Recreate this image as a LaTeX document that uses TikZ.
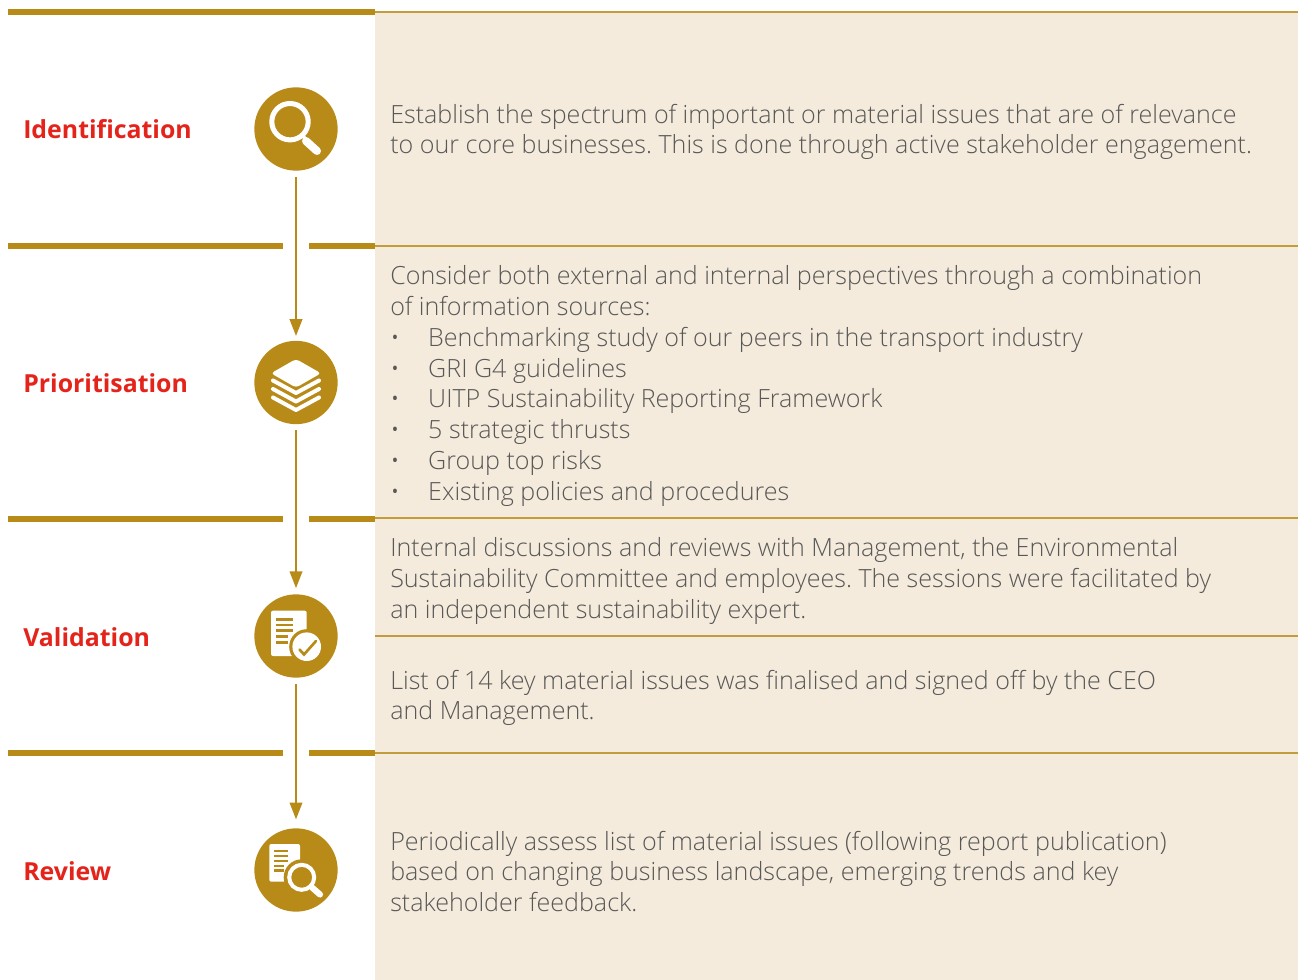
\documentclass[tikz,border=0pt]{standalone}
\usepackage{fontspec}
\setmainfont{Open Sans Light}
\newfontfamily\boldfont[Ligatures=NoCommon]{Open Sans Bold}
\usetikzlibrary{arrows.meta}
\definecolor{gold}{HTML}{B88A18}
\definecolor{cream}{HTML}{F5EBDD}
\definecolor{stepred}{HTML}{E4241B}
\definecolor{bodygray}{HTML}{585856}
\newcommand{\bulletline}[1]{\makebox[28.5pt][l]{\textbullet}#1}
\begin{document}
\begin{tikzpicture}[x=0.75pt,y=-0.75pt,
  stepcircle/.style={circle,fill=gold,minimum size=62.5pt,inner sep=0pt},
  steplabel/.style={anchor=west,inner sep=0pt,text=stepred,font=\boldfont\fontsize{18.65}{22}\selectfont},
  bodytext/.style={anchor=west,inner sep=0pt,align=left,text=bodygray,font=\frenchspacing\fontsize{18.8}{23.05}\selectfont},
  steparrow/.style={draw=gold,line width=1.1pt,-{Triangle[length=12.5pt,width=9.5pt,fill=gold]},shorten <=4.5pt},
  thickrule/.style={draw=gold,line width=4pt},
  thinrule/.style={draw=gold!85,line width=0.8pt},
  iconstroke/.style={draw=white,line cap=round,line join=round},
  docrule/.style={draw=gold,line width=2.2pt}]
\useasboundingbox (0,0) rectangle (1298,980);
\fill[cream] (375,12) rectangle (1298,980);

\draw[thickrule] (8,12) -- (375,12);
\draw[thickrule] (8,246) -- (283,246);
\draw[thickrule] (309,246) -- (375,246);
\draw[thickrule] (8,519) -- (283,519);
\draw[thickrule] (309,519) -- (375,519);
\draw[thickrule] (8,753) -- (283,753);
\draw[thickrule] (309,753) -- (375,753);
\draw[thinrule] (375,12) -- (1298,12);
\draw[thinrule] (375,246) -- (1298,246);
\draw[thinrule] (375,518) -- (1298,518);
\draw[thinrule] (375,636) -- (1298,636);
\draw[thinrule] (375,753) -- (1298,753);

\node[stepcircle] (identify) at (296,129) {};
\node[stepcircle] (prioritise) at (296,382.5) {};
\node[stepcircle] (validate) at (296,636) {};
\node[stepcircle] (review) at (296,870) {};
\path[steparrow,shorten >=3.5pt] (identify) -- (prioritise);
\path[steparrow,shorten >=4.5pt] (prioritise) -- (validate);
\path[steparrow,shorten >=6.6pt] (validate) -- (review);

\node[steplabel] (lbl1) at (23,129.5) {Identification};
\node[steplabel] (lbl2) at (23,382.8) {Prioritisation};
\node[steplabel] (lbl3) at (23,636.8) {Validation};
\node[steplabel] (lbl4) at (23,870.8) {Review};

\node[bodytext] (txt1) at (390,132) {Establish the spectrum of important or material issues that are of relevance\\to our core businesses. This is done through active stakeholder engagement.};
\node[bodytext] (txt2) at (390,386) {Consider both external and internal perspectives through a combination\\of information sources:\\
\bulletline{Benchmarking study of our peers in the transport industry}\\
\bulletline{GRI G4 guidelines}\\
\bulletline{UITP Sustainability Reporting Framework}\\
\bulletline{5 strategic thrusts}\\
\bulletline{Group top risks}\\
\bulletline{Existing policies and procedures}};
\node[bodytext] (txt3) at (390,581) {Internal discussions and reviews with Management, the Environmental\\Sustainability Committee and employees. The sessions were facilitated by\\an independent sustainability expert.};
\node[bodytext] (txt4) at (390,698) {List of 14 key material issues was finalised and signed off by the CEO\\and Management.};
\node[bodytext] (txt5) at (390,871.5) {Periodically assess list of material issues (following report publication)\\based on changing business landscape, emerging trends and key\\stakeholder feedback.};

% magnifier
\draw[iconstroke,line width=3.8pt] (290,121.7) circle (18.2);
\draw[iconstroke,line width=2.6pt] (302,135) -- (306,139.5);
\draw[iconstroke,line width=6pt] (306,141) -- (317,151);

% layers
\fill[white,rounded corners=2.5pt] (296,359) -- (321,373.3) -- (296,387.6) -- (271,373.3) -- cycle;
\foreach \dy in {0,8.5,17}
  \draw[iconstroke,line width=3pt] (273,380.5+\dy) -- (296,393+\dy) -- (319,380.5+\dy);

% document with tick
\fill[white,rounded corners=1.5pt] (271,610.7) rectangle (306.7,656);
\foreach \yy/\xx in {619.3/292.7,625/292.7,630.7/292.7,636.7/287.5,642.3/287.5}
  \draw[docrule] (275.7,\yy) -- (\xx,\yy);
\fill[gold] (306.7,646.7) circle (17.5);
\fill[white] (306.7,646.7) circle (14.3);
\draw[draw=gold,line width=2pt,line cap=round,line join=miter] (299.5,649.5) -- (304,654.5) -- (316,641);

% document with magnifier
\fill[white,rounded corners=1.5pt] (269.3,844) rectangle (300,881.7);
\foreach \yy/\xx in {851/288.3,856/288.3,861/288.3,866/284,870.7/284}
  \draw[docrule,line width=2pt] (274,\yy) -- (\xx,\yy);
\fill[gold] (301.7,877.3) circle (18);
\draw[iconstroke,line width=3pt] (301.7,877.3) circle (12.5);
\draw[iconstroke,line width=4.6pt] (312,887.5) -- (320,894.5);
\end{tikzpicture}
\end{document}
